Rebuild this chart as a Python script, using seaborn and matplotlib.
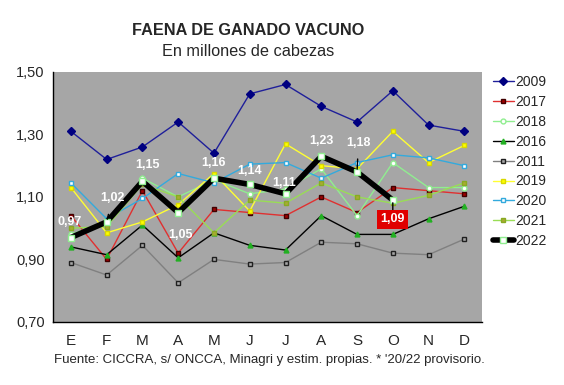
import matplotlib
matplotlib.use("Agg")
import matplotlib.pyplot as plt
import seaborn as sns

# Datos (millones de cabezas)
meses = ["E", "F", "M", "A", "M", "J", "J", "A", "S", "O", "N", "D"]
v2009 = [1.31, 1.22, 1.26, 1.34, 1.24, 1.43, 1.46, 1.39, 1.34, 1.44, 1.33, 1.31]
v2017 = [1.04, 0.90, 1.12, 0.92, 1.06, 1.05, 1.04, 1.10, 1.05, 1.13, 1.12, 1.11]
v2018 = [0.98, 1.02, 1.16, 1.10, 1.155, 1.11, 1.125, 1.19, 1.04, 1.21, 1.13, 1.13]
v2016 = [0.94, 0.915, 1.01, 0.905, 0.985, 0.945, 0.93, 1.04, 0.98, 0.98, 1.03, 1.07]
v2011 = [0.89, 0.85, 0.945, 0.825, 0.90, 0.885, 0.89, 0.955, 0.95, 0.92, 0.915, 0.965]
v2019 = [1.13, 0.985, 1.02, 1.075, 1.175, 1.055, 1.27, 1.20, 1.19, 1.31, 1.21, 1.265]
v2020 = [1.145, 1.03, 1.095, 1.175, 1.145, 1.205, 1.21, 1.16, 1.21, 1.235, 1.225, 1.20]
v2021 = [1.00, 1.005, 1.14, 1.10, 0.985, 1.09, 1.08, 1.145, 1.10, 1.08, 1.105, 1.145]
v2022 = [0.97, 1.02, 1.15, 1.05, 1.16, 1.14, 1.11, 1.23, 1.18, 1.09]
etiquetas_y = ["0,70", "0,90", "1,10", "1,30", "1,50"]

sns.set_style("white")
plt.rcParams["font.family"] = ["Liberation Sans", "DejaVu Sans"]

fig = plt.figure(figsize=(5.64, 3.85), dpi=100)
ax = fig.add_axes([0.094, 0.164, 0.761, 0.649])
ax.set_facecolor("#A6A6A6")

x = list(range(12))

# (etiqueta, valores, color linea, marcador, relleno, borde, tam, grosor)
series = [
    ("2009", v2009, "#1F1F9A", "D", "#000080", "#000080", 4, 1.0),
    ("2017", v2017, "#E03030", "s", "#A00000", "#400000", 3.5, 1.0),
    ("2018", v2018, "#90EE90", "o", "white", "#90EE90", 3.5, 1.0),
    ("2016", v2016, "black", "^", "#22B022", "#22B022", 3.5, 1.0),
    ("2011", v2011, "#808080", "s", "#A6A6A6", "#202020", 3, 1.0),
    ("2019", v2019, "#FFFF33", "s", "#FFFF00", "#D8D800", 3.5, 1.0),
    ("2020", v2020, "#33AADD", "s", "white", "#33AADD", 3.5, 1.0),
    ("2021", v2021, "#99DD55", "s", "#AAAA33", "#88AA22", 3.5, 1.0),
]

for nombre, vals, col, mk, fc, ec, ms, lw in series:
    sns.lineplot(x=x[:len(vals)], y=vals, ax=ax, color=col, marker=mk,
                 markerfacecolor=fc, markeredgecolor=ec, markersize=ms,
                 markeredgewidth=1, linewidth=lw, label=nombre)

sns.lineplot(x=x[:len(v2022)], y=v2022, ax=ax, color="black", marker="s",
             markerfacecolor="white", markeredgecolor="#90EE90", markersize=5,
             markeredgewidth=1, linewidth=4, label="2022")

# etiquetas de datos 2022
def txt(i, dx, dy, **kw):
    ax.annotate(f"{v2022[i]:.2f}".replace(".", ","), (x[i], v2022[i]),
                xytext=(dx, dy), textcoords="offset points", ha="center",
                va="center", color="white", fontsize=9, fontweight="bold", **kw)

txt(0, -1, 11)
txt(1, 4, 17, arrowprops=dict(arrowstyle="-", color="black", lw=1, shrinkA=5, shrinkB=2))
txt(2, 4, 12)
txt(3, 2, -16)
txt(4, 0, 11)
txt(5, 0, 10)
txt(6, -1, 8)
txt(7, 0, 11)
txt(8, 1, 21, arrowprops=dict(arrowstyle="-", color="black", lw=1, shrinkA=5, shrinkB=2))
ax.annotate("1,09", (x[9], v2022[9]), xytext=(0, -14), textcoords="offset points",
            ha="center", va="center", color="white", fontsize=9, fontweight="bold",
            bbox=dict(boxstyle="square,pad=0.25", fc="#E00000", ec="none"),
            arrowprops=dict(arrowstyle="-", color="black", lw=1, shrinkA=0, shrinkB=2))

ax.set_xlim(-0.5, 11.5)
ax.set_ylim(0.70, 1.50)
ax.set_yticks([0.70, 0.90, 1.10, 1.30, 1.50])
ax.set_yticklabels(etiquetas_y, fontsize=10.5)
ax.set_xticks([i - 0.5 for i in range(13)])
ax.set_xticklabels([])
ax.set_xticks(x, minor=True)
ax.set_xticklabels(meses, minor=True, fontsize=11)
ax.tick_params(axis="x", which="major", length=4, direction="out", color="black", width=1)
ax.tick_params(axis="x", which="minor", length=0, pad=9)
ax.tick_params(axis="y", length=4, direction="out", color="black", width=1, pad=2)
ax.set_xlabel("")
ax.set_ylabel("")
for s in ["top", "right"]:
    ax.spines[s].set_visible(False)
for s in ["left", "bottom"]:
    ax.spines[s].set_color("black")
    ax.spines[s].set_linewidth(1)

ax.legend(loc="upper left", bbox_to_anchor=(1.005, 1.02), frameon=False,
          fontsize=10, handlelength=1.5, handletextpad=0.15, labelspacing=0.42,
          borderaxespad=0.2)

fig.text(0.44, 0.922, "FAENA DE GANADO VACUNO", ha="center", va="center",
         fontsize=11.7, fontweight="bold")
fig.text(0.44, 0.865, "En millones de cabezas", ha="center", va="center", fontsize=11.7)
fig.text(0.477, 0.065, "Fuente: CICCRA, s/ ONCCA, Minagri y estim. propias. * '20/22 provisorio.",
         ha="center", va="center", fontsize=9.5)

fig.savefig("out.png", dpi=100)
